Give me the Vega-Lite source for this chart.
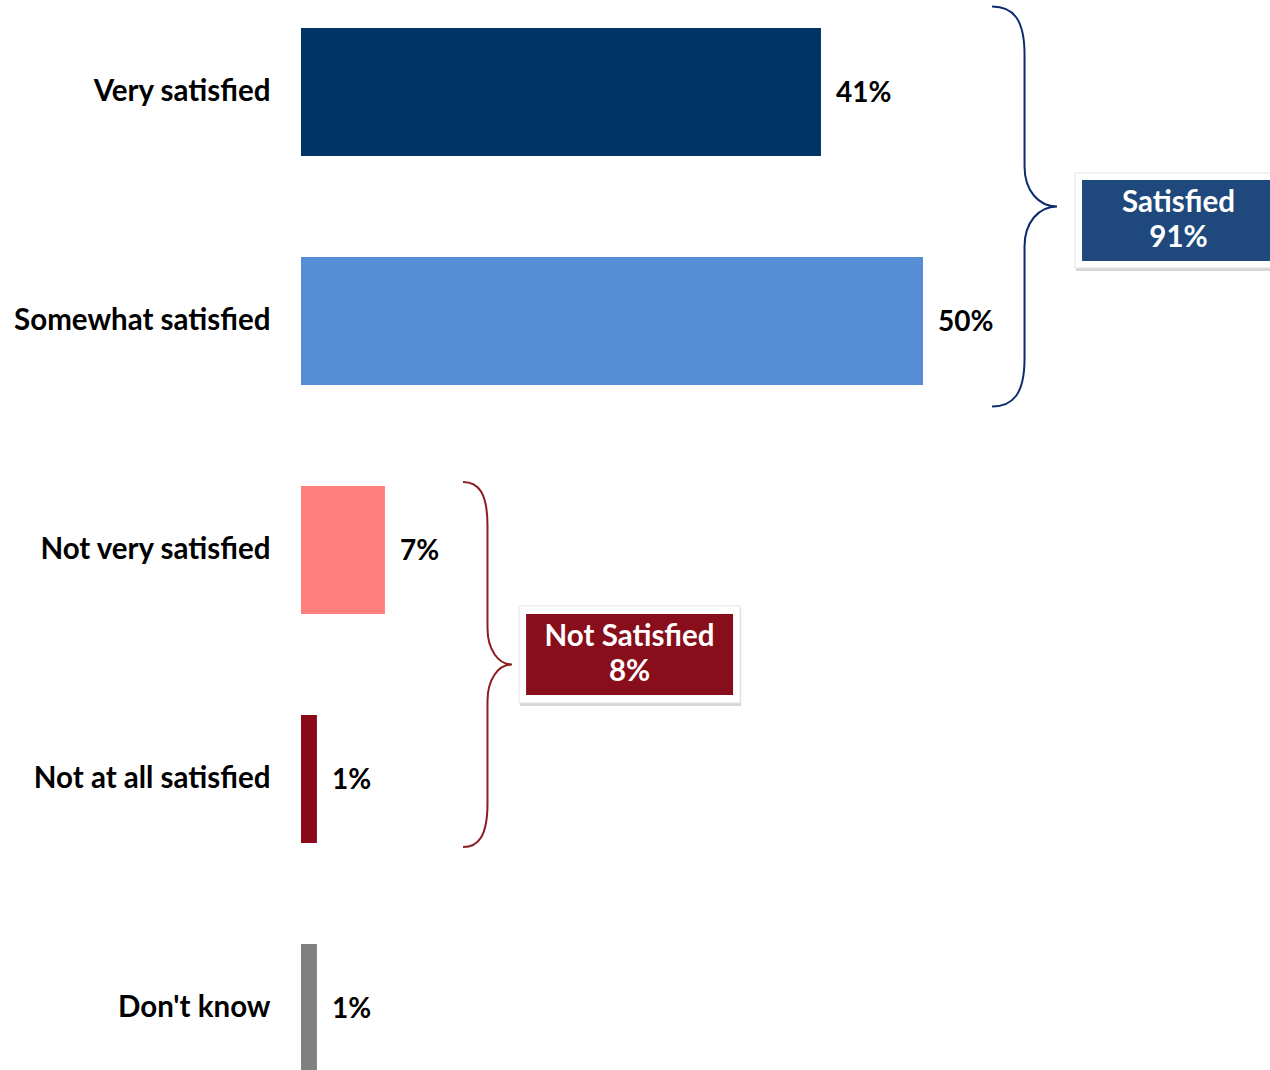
{
  "$schema": "https://vega.github.io/schema/vega-lite/v6.json",
  "autosize": "none",
  "padding": {"left": 301, "top": 28, "right": 5, "bottom": 0},
  "width": 964,
  "height": 1044,
  "background": "white",
  "config": {"view": {"stroke": null}, "font": "Lato"},
  "datasets": {
    "bars": [
      {"category": "Very satisfied", "value": 41.43, "label": "41%"},
      {"category": "Somewhat satisfied", "value": 49.56, "label": "50%"},
      {"category": "Not very satisfied", "value": 6.69, "label": "7%"},
      {"category": "Not at all satisfied", "value": 1.27, "label": "1%"},
      {"category": "Don't know", "value": 1.27, "label": "1%"}
    ],
    "groups": [
      {"group": "Satisfied", "text": "Satisfied\n91%", "brace_x": 57.65, "brace_y": 0.5, "box_x": 69.92, "box_y": 0.561},
      {"group": "Not Satisfied", "text": "Not Satisfied\n8%", "brace_x": 14.86, "brace_y": 2.5, "box_x": 26.18, "box_y": 2.456}
    ]
  },
  "resolve": {"scale": {"y": "independent"}, "axis": {"y": "independent"}},
  "layer": [
    {
      "data": {"name": "bars"},
      "encoding": {
        "y": {
          "field": "category", "type": "nominal", "sort": null,
          "scale": {"paddingInner": 0.441, "paddingOuter": 0},
          "axis": {"title": null, "domain": false, "ticks": false, "tickSize": 0, "labelPadding": 31, "labelFont": "Lato", "labelFontSize": 29.5, "labelFontWeight": "bold", "labelColor": "#000000", "labelLimit": 400}
        },
        "x": {"field": "value", "type": "quantitative", "scale": {"domain": [0, 76.81], "nice": false, "zero": true}, "axis": null}
      },
      "layer": [
        {
          "mark": {"type": "bar", "cornerRadius": 0},
          "encoding": {
            "color": {"field": "category", "type": "nominal", "legend": null,
              "scale": {"domain": ["Very satisfied", "Somewhat satisfied", "Not very satisfied", "Not at all satisfied", "Don't know"],
                        "range": ["#003366", "#558ED5", "#FF7F7F", "#8B0A1A", "#808080"]}}
          }
        },
        {
          "mark": {"type": "text", "align": "left", "baseline": "middle", "dx": 15, "dy": 2, "font": "Lato", "fontSize": 28, "fontWeight": "bold", "color": "#000000"},
          "encoding": {"text": {"field": "label"}}
        }
      ]
    },
    {
      "data": {"name": "groups"},
      "layer": [
        {
          "transform": [{"filter": "datum.group === 'Satisfied'"}],
          "mark": {"type": "point", "filled": false, "opacity": 1, "color": "#0D2C6C", "strokeWidth": 2,
            "shape": "M-0.1625,-1 C-0.06,-1 0,-0.94 0,-0.76 L0,-0.2 C0,-0.08 0.07,0 0.1625,0 C0.07,0 0,0.08 0,0.2 L0,0.76 C0,0.94 -0.06,1 -0.1625,1",
            "size": 160000},
          "encoding": {
            "x": {"field": "brace_x", "type": "quantitative", "scale": {"domain": [0, 76.81], "nice": false}, "axis": null},
            "y": {"field": "brace_y", "type": "quantitative", "scale": {"domain": [-0.2795, 4.2795], "reverse": true, "nice": false, "zero": false}, "axis": null}
          }
        },
        {
          "transform": [{"filter": "datum.group === 'Not Satisfied'"}],
          "mark": {"type": "point", "filled": false, "opacity": 1, "color": "#8E1B1F", "strokeWidth": 2,
            "shape": "M-0.134,-1 C-0.05,-1 0,-0.94 0,-0.76 L0,-0.2 C0,-0.08 0.06,0 0.134,0 C0.06,0 0,0.08 0,0.2 L0,0.76 C0,0.94 -0.05,1 -0.134,1",
            "size": 133225},
          "encoding": {
            "x": {"field": "brace_x", "type": "quantitative", "scale": {"domain": [0, 76.81], "nice": false}, "axis": null},
            "y": {"field": "brace_y", "type": "quantitative", "scale": {"domain": [-0.2795, 4.2795], "reverse": true, "nice": false, "zero": false}, "axis": null}
          }
        },
        {
          "transform": [{"filter": "datum.group === 'Satisfied'"}],
          "mark": {"type": "point", "filled": true, "opacity": 0.45, "color": "#A6A6A6", "strokeWidth": 0, "xOffset": 1, "yOffset": 3,
            "shape": "M-1.0725,-0.492 L1.0725,-0.492 L1.0725,0.492 L-1.0725,0.492 Z", "size": 37249},
          "encoding": {
            "x": {"field": "box_x", "type": "quantitative", "scale": {"domain": [0, 76.81], "nice": false}, "axis": null},
            "y": {"field": "box_y", "type": "quantitative", "scale": {"domain": [-0.2795, 4.2795], "reverse": true, "nice": false, "zero": false}, "axis": null}
          }
        },
        {
          "transform": [{"filter": "datum.group === 'Satisfied'"}],
          "mark": {"type": "point", "filled": true, "opacity": 1, "fill": "#FFFFFF", "stroke": "#E3E3E3", "strokeWidth": 1,
            "shape": "M-1.0725,-0.492 L1.0725,-0.492 L1.0725,0.492 L-1.0725,0.492 Z", "size": 37249},
          "encoding": {
            "x": {"field": "box_x", "type": "quantitative", "scale": {"domain": [0, 76.81], "nice": false}, "axis": null},
            "y": {"field": "box_y", "type": "quantitative", "scale": {"domain": [-0.2795, 4.2795], "reverse": true, "nice": false, "zero": false}, "axis": null}
          }
        },
        {
          "transform": [{"filter": "datum.group === 'Satisfied'"}],
          "mark": {"type": "point", "filled": true, "opacity": 1, "color": "#1F497D", "strokeWidth": 0,
            "shape": "M-1,-0.4197 L1,-0.4197 L1,0.4197 L-1,0.4197 Z", "size": 37249},
          "encoding": {
            "x": {"field": "box_x", "type": "quantitative", "scale": {"domain": [0, 76.81], "nice": false}, "axis": null},
            "y": {"field": "box_y", "type": "quantitative", "scale": {"domain": [-0.2795, 4.2795], "reverse": true, "nice": false, "zero": false}, "axis": null}
          }
        },
        {
          "transform": [{"filter": "datum.group === 'Not Satisfied'"}],
          "mark": {"type": "point", "filled": true, "opacity": 0.45, "color": "#A6A6A6", "strokeWidth": 0, "xOffset": 1, "yOffset": 3,
            "shape": "M-1.068,-0.469 L1.068,-0.469 L1.068,0.469 L-1.068,0.469 Z", "size": 42849},
          "encoding": {
            "x": {"field": "box_x", "type": "quantitative", "scale": {"domain": [0, 76.81], "nice": false}, "axis": null},
            "y": {"field": "box_y", "type": "quantitative", "scale": {"domain": [-0.2795, 4.2795], "reverse": true, "nice": false, "zero": false}, "axis": null}
          }
        },
        {
          "transform": [{"filter": "datum.group === 'Not Satisfied'"}],
          "mark": {"type": "point", "filled": true, "opacity": 1, "fill": "#FFFFFF", "stroke": "#E3E3E3", "strokeWidth": 1,
            "shape": "M-1.068,-0.469 L1.068,-0.469 L1.068,0.469 L-1.068,0.469 Z", "size": 42849},
          "encoding": {
            "x": {"field": "box_x", "type": "quantitative", "scale": {"domain": [0, 76.81], "nice": false}, "axis": null},
            "y": {"field": "box_y", "type": "quantitative", "scale": {"domain": [-0.2795, 4.2795], "reverse": true, "nice": false, "zero": false}, "axis": null}
          }
        },
        {
          "transform": [{"filter": "datum.group === 'Not Satisfied'"}],
          "mark": {"type": "point", "filled": true, "opacity": 1, "color": "#880E1B", "strokeWidth": 0,
            "shape": "M-1,-0.391 L1,-0.391 L1,0.391 L-1,0.391 Z", "size": 42849},
          "encoding": {
            "x": {"field": "box_x", "type": "quantitative", "scale": {"domain": [0, 76.81], "nice": false}, "axis": null},
            "y": {"field": "box_y", "type": "quantitative", "scale": {"domain": [-0.2795, 4.2795], "reverse": true, "nice": false, "zero": false}, "axis": null}
          }
        },
        {
          "mark": {"type": "text", "align": "center", "baseline": "middle", "lineBreak": "\n", "lineHeight": 35, "dy": -17, "font": "Lato", "fontSize": 29.5, "fontWeight": "bold", "color": "#FFFFFF"},
          "encoding": {
            "x": {"field": "box_x", "type": "quantitative", "scale": {"domain": [0, 76.81], "nice": false}, "axis": null},
            "y": {"field": "box_y", "type": "quantitative", "scale": {"domain": [-0.2795, 4.2795], "reverse": true, "nice": false, "zero": false}, "axis": null},
            "text": {"field": "text"}
          }
        }
      ]
    }
  ]
}
